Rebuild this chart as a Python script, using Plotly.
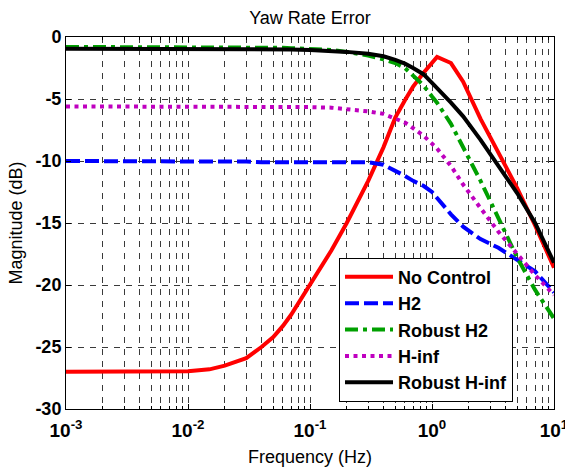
import plotly.graph_objects as go

# Frequency response magnitudes of the yaw-rate error for each controller
freq_hz = [0.001, 0.002, 0.005, 0.01, 0.015, 0.02, 0.03, 0.04, 0.05, 0.06, 0.07, 0.1, 0.15, 0.2, 0.3,
           0.4, 0.5, 0.6, 0.7, 0.85, 1.0, 1.1, 1.43, 1.8, 2.5, 3.5, 5.0, 7.0, 10.0]

no_control_db = [-27.0, -27.0, -27.0, -26.95, -26.8, -26.5, -25.9, -25.0, -24.2, -23.3, -22.4, -20.0,
                 -17.2, -15.0, -11.6, -8.9, -6.5, -5.1, -4.0, -2.9, -2.1, -1.6, -2.1, -3.6, -6.6,
                 -9.3, -12.2, -15.2, -18.6]

h2_db = [-10.0, -10.0, -10.0, -10.05, -10.05, -10.05, -10.05, -10.1, -10.1, -10.1, -10.1, -10.1,
         -10.1, -10.1, -10.1, -10.3, -10.75, -11.2, -11.6, -12.0, -12.5, -13.0, -14.3, -15.3,
         -16.3, -17.0, -18.0, -18.9, -20.6]

robust_h2_db = [-0.8, -0.8, -0.8, -0.8, -0.8, -0.8, -0.8, -0.82, -0.85, -0.87, -0.9, -0.95,
                -1.05, -1.2, -1.5, -1.8, -2.1, -2.5, -3.1, -3.9, -4.8, -5.3, -7.0, -8.9,
                -11.6, -14.6, -17.8, -20.4, -22.7]

h_inf_db = [-5.6, -5.6, -5.6, -5.6, -5.6, -5.6, -5.6, -5.6, -5.6, -5.6, -5.6, -5.65,
            -5.7, -5.8, -6.0, -6.2, -6.6, -6.9, -7.35, -7.95, -8.6, -9.0, -10.4, -11.9,
            -13.8, -15.7, -17.5, -19.2, -20.8]

robust_h_inf_db = [-0.95, -0.95, -0.95, -0.95, -0.95, -0.95, -0.95, -0.97, -1.0, -1.0, -1.0, -1.05,
                   -1.1, -1.2, -1.35, -1.55, -1.85, -2.15, -2.5, -3.0, -3.7, -4.1, -5.3, -6.4,
                   -8.3, -10.4, -12.6, -15.0, -18.2]

series_names = ["No Control", "H2", "Robust H2", "H-inf", "Robust H-inf"]

x_tickvals = [0.001, 0.01, 0.1, 1, 10]
x_ticktext = ["10<sup>-3</sup>", "10<sup>-2</sup>", "10<sup>-1</sup>", "10<sup>0</sup>", "10<sup>1</sup>"]
y_tickvals = [-30, -25, -20, -15, -10, -5, 0]
y_ticktext = ["-30", "-25", "-20", "-15", "-10", "-5", "0"]

# log-spaced minor grid: 2..9 within each decade
minor_vals = [m * 10.0 ** e for e in range(-3, 1) for m in range(2, 10)]

styles = [
    dict(color="#ff0000", dash="solid"),
    dict(color="#0000ff", dash="14px,5px"),
    dict(color="#00a000", dash="13px,5px,4px,5px"),
    dict(color="#bf00bf", dash="4px,4.5px"),
    dict(color="#000000", dash="solid"),
]
values = [no_control_db, h2_db, robust_h2_db, h_inf_db, robust_h_inf_db]

fig = go.Figure()
for name, vals, st in zip(series_names, values, styles):
    fig.add_trace(go.Scatter(
        x=freq_hz, y=vals, mode="lines", name=name,
        line=dict(color=st["color"], dash=st["dash"], width=4),
    ))

grid_color = "#3a3a3a"
fig.update_layout(
    width=565, height=468,
    margin=dict(l=66, r=11, t=37, b=59),
    paper_bgcolor="white", plot_bgcolor="white",
    font=dict(family="Liberation Sans, Arial, sans-serif", color="black"),
    title=dict(text="Yaw Rate Error", x=0.5, xref="paper", xanchor="center",
               y=1, yref="container", yanchor="top", pad=dict(t=11),
               font=dict(size=18, color="black")),
    showlegend=True,
    legend=dict(
        x=0.916, xanchor="right", y=0.02, yanchor="bottom",
        bgcolor="white", bordercolor="black", borderwidth=1,
        font=dict(size=18, weight="bold", color="black"),
        itemwidth=48,
    ),
    xaxis=dict(
        type="log", range=[-3, 1], automargin=False,
        tickvals=x_tickvals, ticktext=x_ticktext,
        tickfont=dict(size=19, weight="bold"),
        ticklabeloverflow="allow", ticklabelstandoff=4,
        showline=True, linecolor="black", linewidth=1, mirror="ticks",
        ticks="inside", ticklen=5, tickcolor="black",
        showgrid=True, gridcolor=grid_color, griddash="6px,6px", gridwidth=1,
        zeroline=False,
        minor=dict(tickvals=minor_vals, ticks="inside", ticklen=3, tickcolor="black",
                   showgrid=True, gridcolor=grid_color, griddash="6px,6px", gridwidth=1),
        title=dict(text="Frequency (Hz)", font=dict(size=18), standoff=10),
    ),
    yaxis=dict(
        range=[-30, 0], automargin=False,
        tickvals=y_tickvals, ticktext=y_ticktext,
        tickfont=dict(size=18, weight="bold"),
        showline=True, linecolor="black", linewidth=1, mirror="ticks",
        ticks="inside", ticklen=5, tickcolor="black",
        showgrid=True, gridcolor=grid_color, griddash="6px,6px", gridwidth=1,
        zeroline=False,
        title=dict(text="Magnitude (dB)", font=dict(size=18), standoff=8),
    ),
)

fig.write_html("out.html")
